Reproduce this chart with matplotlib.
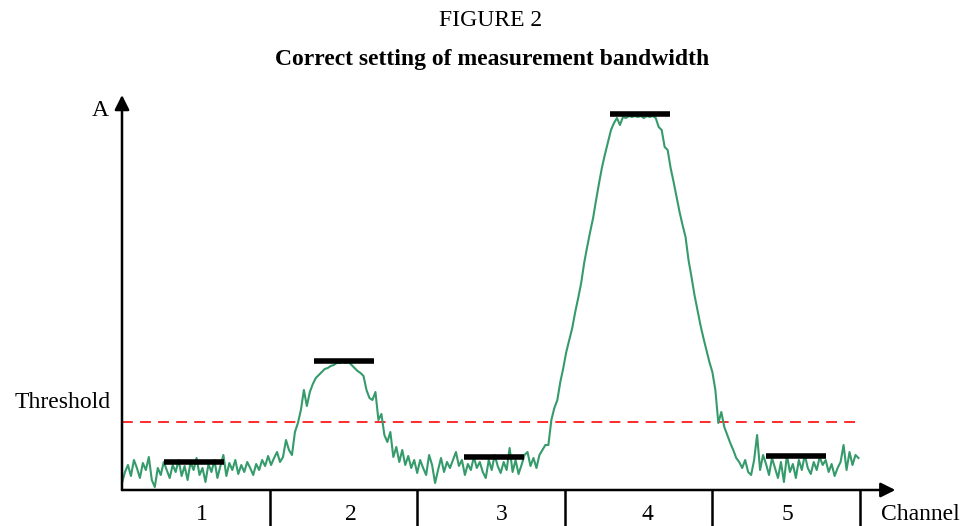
import numpy as np
import matplotlib
matplotlib.use("Agg")
import matplotlib.pyplot as plt

# spectrum trace, amplitude above the noise floor, one list per channel
ch1 = [7, 18, 25, 14, 30, 22, 12, 27, 20, 33, 10, 3, 22, 15, 28, 20, 12, 25, 18, 30,
       14, 24, 10, 28, 20, 32, 15, 22, 8, 26, 18, 30, 12, 24, 35, 14, 27, 20, 30, 16,
       25, 18, 28, 22, 15, 26, 20, 30, 24, 34]
ch2 = [25, 32, 38, 28, 33, 50, 40, 35, 58, 67, 80, 100, 84, 98, 106, 112, 115, 118, 121, 122,
       124, 125, 127, 127, 128, 127, 128, 125, 122, 119, 117, 114, 100, 92, 90, 98, 70, 76, 55, 48,
       58, 33, 43, 28, 40, 25, 34, 22, 30, 17]
ch3 = [30, 22, 15, 35, 25, 7, 20, 32, 18, 28, 22, 30, 38, 24, 30, 15, 26, 20, 33, 22,
       28, 18, 12, 30, 20, 35, 24, 17, 28, 20, 42, 18, 30, 16, 25, 35, 38, 24, 32, 22,
       35, 40, 45, 45, 70, 82, 90, 108, 122, 138]
ch4 = [150, 162, 178, 192, 207, 227, 243, 258, 272, 290, 307, 323, 336, 348, 360, 367, 372, 365, 373, 372,
       374, 373, 374, 373, 374, 372, 374, 373, 374, 372, 363, 360, 343, 340, 322, 308, 293, 278, 265, 253,
       230, 213, 195, 180, 165, 152, 140, 128, 118]
ch5 = [100, 67, 78, 63, 55, 47, 40, 32, 28, 22, 30, 18, 15, 30, 55, 20, 35, 26, 15, 32,
       22, 12, 28, 8, 35, 18, 26, 12, 30, 20, 35, 22, 16, 28, 20, 33, 25, 30, 18, 26,
       14, 22, 28, 45, 20, 38, 25, 35, 32]

channel_labels = ["1", "2", "3", "4", "5"]
label_pos = [0.54, 1.55, 2.57, 3.56, 4.51]
channel_edges = [1, 2, 3, 4, 5]
measure_centers = [0.488, 1.504, 2.52, 3.51, 4.566]
measure_levels = [28, 129, 33, 376, 34]
measure_halfwidth = 0.203
threshold = 68

trace = np.array(ch1 + ch2 + ch3 + ch4 + ch5, dtype=float)
freq = np.linspace(0, 4.99, len(trace))

plt.rcParams["font.family"] = ["Liberation Serif", "DejaVu Serif"]

fig = plt.figure(figsize=(9.64, 5.26), dpi=100)
ax = fig.add_axes([0, 0, 1, 1])
ax.set_xlim(-0.8266, 5.705)
ax.set_ylim(-36, 490)
ax.axis("off")

# axes with arrows
ax.annotate("", xy=(0, 395), xytext=(0, 0),
            arrowprops=dict(arrowstyle="-|>", mutation_scale=22, lw=1.8, color="black",
                            shrinkA=0, shrinkB=0))
ax.annotate("", xy=(5.24, 0), xytext=(0, 0),
            arrowprops=dict(arrowstyle="-|>", mutation_scale=22, lw=1.8, color="black",
                            shrinkA=0, shrinkB=0))
for e in channel_edges:
    ax.plot([e, e], [0, -40], color="black", lw=1.8, clip_on=False)

ax.plot([0, 4.99], [threshold, threshold], color="#ff1a1a", lw=1.3, dashes=(6, 4))
ax.plot(freq, trace, color="#359b6b", lw=1.5)
for c, lv in zip(measure_centers, measure_levels):
    ax.plot([c - measure_halfwidth, c + measure_halfwidth], [lv, lv], color="black",
            lw=4, solid_capstyle="butt")

for p, lab in zip(label_pos, channel_labels):
    ax.text(p, -25, lab, ha="center", va="center", fontsize=17)
ax.text(5.146, -25, "Channel", ha="left", va="center", fontsize=17)
ax.text(-0.148, 379, "A", ha="center", va="center", fontsize=17)
ax.text(-0.405, 87, "Threshold", ha="center", va="center", fontsize=17)

fig.text(0.509, 1 - 20 / 526, "FIGURE 2", ha="center", va="center", fontsize=17)
fig.text(0.510, 1 - 59 / 526, "Correct setting of measurement bandwidth",
         ha="center", va="center", fontsize=17, fontweight="bold")

fig.savefig("out.png", dpi=100)
